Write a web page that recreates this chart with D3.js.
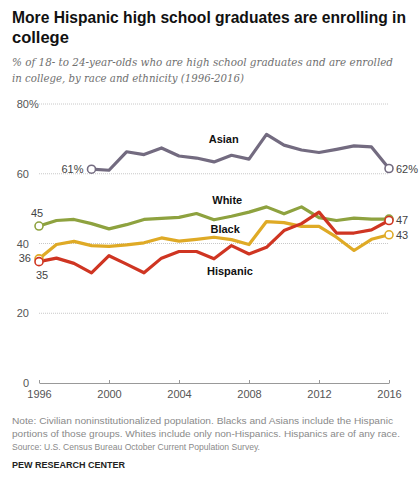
<!DOCTYPE html>
<html><head><meta charset="utf-8">
<script src="https://cdn.jsdelivr.net/npm/d3@7"></script>
<style>body{margin:0;background:#fff}svg{display:block}</style>
</head><body>
<svg id="c" width="419" height="477"></svg>
<script>
const years = d3.range(1996, 2017);
const asianYears = d3.range(1999, 2017);
const asian = [61.3, 61.0, 66.3, 65.5, 67.4, 65.1, 64.5, 63.4, 65.3, 64.2, 71.3, 68.2, 66.8, 66.1, 67.0, 68.0, 67.7, 61.5];
const white = [45.0, 46.6, 46.9, 45.7, 44.2, 45.4, 46.9, 47.2, 47.5, 48.6, 46.8, 47.8, 49.0, 50.5, 48.5, 50.5, 47.4, 46.6, 47.3, 47.0, 47.0];
const black = [35.6, 39.7, 40.6, 39.4, 39.2, 39.6, 40.2, 41.6, 40.7, 41.2, 41.8, 41.1, 39.7, 46.3, 46.0, 44.9, 44.9, 41.8, 38.0, 41.2, 42.5];
const hispanic = [34.8, 35.8, 34.3, 31.6, 36.5, 34.1, 31.6, 35.8, 37.7, 37.7, 35.6, 39.4, 37.0, 38.9, 43.7, 45.7, 49.0, 43.0, 43.0, 43.9, 46.6];
const yTicks = [0, 20, 40, 60, 80];
const xTicks = [1996, 2000, 2004, 2008, 2012, 2016];
const seriesNames = ["Asian", "White", "Black", "Hispanic"];
const colors = {Asian: "#736b80", White: "#8ea23f", Black: "#dfaa26", Hispanic: "#cf3522"};

const svg = d3.select("#c");
const x = d3.scaleLinear().domain([1996, 2016]).range([39, 389]);
const y = d3.scaleLinear().domain([0, 80]).range([383, 104]);

// Title
const title = svg.append("g").attr("font-family", "Liberation Sans, Arial, sans-serif").attr("font-weight", "bold").attr("font-size", 15.8).attr("fill", "#111");
title.append("text").attr("x", 12).attr("y", 23).attr("textLength", 394).attr("lengthAdjust", "spacingAndGlyphs").text("More Hispanic high school graduates are enrolling in");
title.append("text").attr("x", 12).attr("y", 43).attr("font-size", 16.5).text("college");

const sub = svg.append("g").attr("font-family", "DejaVu Serif, serif").attr("font-style", "italic").attr("font-size", 11).attr("fill", "#707070");
sub.append("text").attr("x", 12).attr("y", 66).attr("textLength", 381).attr("lengthAdjust", "spacingAndGlyphs").text("% of 18- to 24-year-olds who are high school graduates and are enrolled");
sub.append("text").attr("x", 12).attr("y", 82).attr("textLength", 232).attr("lengthAdjust", "spacingAndGlyphs").text("in college, by race and ethnicity (1996-2016)");

// Grid
svg.append("g").selectAll("line").data(yTicks.filter(d => d > 0)).join("line")
  .attr("x1", x(1996)).attr("x2", x(2016)).attr("y1", d => y(d)).attr("y2", d => y(d))
  .attr("stroke", "#c8c8c8").attr("stroke-width", 1).attr("stroke-dasharray", "1,1");

// Y labels
const yl = svg.append("g").attr("font-family", "Liberation Sans, Arial, sans-serif").attr("font-size", 11).attr("fill", "#555");
yl.selectAll("text").data(yTicks).join("text")
  .attr("x", 29).attr("y", d => y(d) + 4).attr("text-anchor", "end").text(d => d);
yl.append("text").attr("x", 29).attr("y", y(80) + 4).text("%");

// X axis
const xa = svg.append("g").attr("transform", `translate(0,${y(0)})`)
  .call(d3.axisBottom(x).tickValues(xTicks).tickFormat(d3.format("d")).tickSizeInner(-3).tickSizeOuter(0).tickPadding(5));
xa.select(".domain").attr("stroke", "#999");
xa.selectAll(".tick line").attr("stroke", "#999");
xa.selectAll(".tick text").attr("font-family", "Liberation Sans, Arial, sans-serif").attr("font-size", 11).attr("fill", "#555").attr("dy", "0.9em");

// Lines
const line = d3.line().x(d => x(d[0])).y(d => y(d[1]));
const data = {
  Asian: asianYears.map((yr, i) => [yr, asian[i]]),
  White: years.map((yr, i) => [yr, white[i]]),
  Black: years.map((yr, i) => [yr, black[i]]),
  Hispanic: years.map((yr, i) => [yr, hispanic[i]])
};
const drawOrder = ["Asian", "Black", "White", "Hispanic"];
drawOrder.forEach(s => {
  svg.append("path").datum(data[s]).attr("d", line).attr("fill", "none")
    .attr("stroke", colors[s]).attr("stroke-width", 3.2).attr("stroke-linejoin", "round");
});
drawOrder.forEach(s => {
  const pts = [data[s][0], data[s][data[s].length - 1]];
  svg.append("g").selectAll("circle").data(pts).join("circle")
    .attr("cx", d => x(d[0])).attr("cy", d => y(d[1])).attr("r", 4)
    .attr("fill", "#fff").attr("stroke", colors[s]).attr("stroke-width", 1.6);
});

// Series labels
const sl = svg.append("g").attr("font-family", "Liberation Sans, Arial, sans-serif").attr("font-weight", "bold").attr("font-size", 11).attr("fill", "#111");
const labelPos = {Asian: [2005.7, 68.8], White: [2005.9, 51.3], Black: [2005.8, 43.0], Hispanic: [2005.6, 31.0]};
seriesNames.forEach(s => sl.append("text").attr("x", x(labelPos[s][0])).attr("y", y(labelPos[s][1])).text(s));

// Value labels
const vl = svg.append("g").attr("font-family", "Liberation Sans, Arial, sans-serif").attr("font-size", 11).attr("fill", "#444");
vl.append("text").attr("x", x(1999) - 8).attr("y", y(asian[0]) + 4).attr("text-anchor", "end").text("61%");
vl.append("text").attr("x", x(2016) + 7).attr("y", y(asian[asian.length - 1]) + 4).text("62%");
vl.append("text").attr("x", x(1996) - 8).attr("y", y(white[0]) - 9).text("45");
vl.append("text").attr("x", x(1996) - 8).attr("y", y(black[0]) + 3).attr("text-anchor", "end").text("36");
vl.append("text").attr("x", x(1996) - 3).attr("y", y(hispanic[0]) + 17).text("35");
vl.append("text").attr("x", x(2016) + 7).attr("y", y(hispanic[hispanic.length - 1]) + 4).text("47");
vl.append("text").attr("x", x(2016) + 7).attr("y", y(black[black.length - 1]) + 4).text("43");

// Notes
const nt = svg.append("g").attr("font-family", "Liberation Sans, Arial, sans-serif").attr("font-size", 9.5).attr("fill", "#8a8a8a");
nt.append("text").attr("x", 12).attr("y", 424).attr("textLength", 381).attr("lengthAdjust", "spacingAndGlyphs").text("Note: Civilian noninstitutionalized population.  Blacks and Asians include the Hispanic");
nt.append("text").attr("x", 12).attr("y", 437).attr("textLength", 388).attr("lengthAdjust", "spacingAndGlyphs").text("portions of those groups. Whites include only non-Hispanics. Hispanics are of any race.");
nt.append("text").attr("x", 12).attr("y", 450).attr("textLength", 248).attr("lengthAdjust", "spacingAndGlyphs").text("Source: U.S. Census Bureau October Current Population Survey.");
svg.append("text").attr("x", 12).attr("y", 468).attr("font-family", "Liberation Sans, Arial, sans-serif").attr("font-weight", "bold").attr("font-size", 9).attr("fill", "#222")
  .attr("textLength", 113).attr("lengthAdjust", "spacingAndGlyphs").text("PEW RESEARCH CENTER");
</script>
</body></html>
